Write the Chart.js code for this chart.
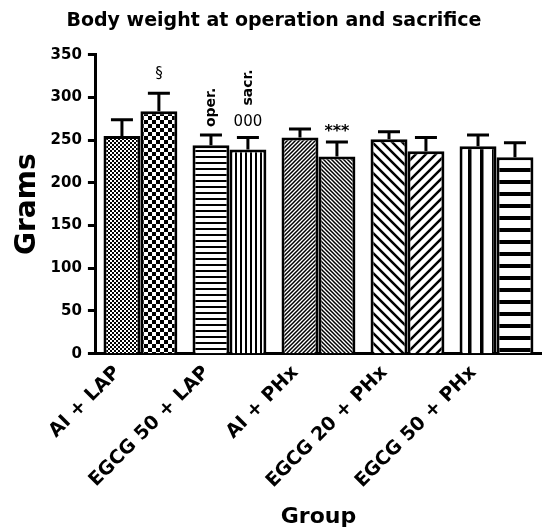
<!DOCTYPE html>
<html>
<head>
<meta charset="utf-8">
<script src="https://cdn.jsdelivr.net/npm/chart.js@4/dist/chart.umd.min.js"></script>
<style>
  body { margin: 0; background: #fff; }
  #wrap { width: 542px; height: 530px; }
</style>
</head>
<body>
<div id="wrap"><canvas id="bodyWeightChart" width="542" height="530"></canvas></div>
<script>
const groups = ['AI + LAP', 'EGCG 50 + LAP', 'AI + PHx', 'EGCG 20 + PHx', 'EGCG 50 + PHx'];
const operWeights = [255, 244, 253, 251, 243];
const operSd = [19, 12, 10, 9, 13];
const sacrWeights = [284, 239, 231, 237, 230];
const sacrSd = [21, 14, 17, 16, 17];
const sacrMarks = ['§', '000', '***', '', ''];
const seriesNames = ['oper.', 'sacr.'];

const FONT = "'DejaVu Sans', sans-serif";

function makePattern(size, draw) {
    const c = document.createElement('canvas');
    c.width = size;
    c.height = size;
    const g = c.getContext('2d');
    g.fillStyle = '#fff';
    g.fillRect(0, 0, size, size);
    g.fillStyle = '#000';
    g.strokeStyle = '#000';
    draw(g, size);
    return g.createPattern(c, 'repeat');
}

function checker(cell) {
    return makePattern(cell * 2, (g) => {
        g.fillRect(0, 0, cell, cell);
        g.fillRect(cell, cell, cell, cell);
    });
}

function hLines(size, w) {
    return makePattern(size, (g, s) => g.fillRect(0, 0, s, w));
}

function vLines(size, w) {
    return makePattern(size, (g, s) => g.fillRect(0, 0, w, s));
}

function diag(size, w, up) {
    return makePattern(size, (g, s) => {
        g.lineWidth = w;
        g.beginPath();
        if (up) {
            g.moveTo(-s, s); g.lineTo(s, -s);
            g.moveTo(0, s); g.lineTo(s, 0);
            g.moveTo(0, 2 * s); g.lineTo(2 * s, 0);
        } else {
            g.moveTo(0, 0); g.lineTo(s, s);
            g.moveTo(-s, 0); g.lineTo(s, 2 * s);
            g.moveTo(0, -s); g.lineTo(2 * s, s);
        }
        g.stroke();
    });
}

const operFills = [checker(2), hLines(6, 2), diag(4, 1.5, true), diag(10, 2.5, false), vLines(12, 3.5)];
const sacrFills = [checker(4), vLines(5, 2), diag(4, 1.5, false), diag(10, 2.5, true), hLines(12, 4)];

// error bars (upper only) and the marks written above them
const errorBars = {
    id: 'errorBars',
    afterDatasetsDraw(chart) {
        const ctx = chart.ctx;
        const yScale = chart.scales.y;
        ctx.save();
        ctx.strokeStyle = '#000';
        ctx.fillStyle = '#000';
        ctx.lineWidth = 3;
        chart.data.datasets.forEach((ds, di) => {
            const meta = chart.getDatasetMeta(di);
            meta.data.forEach((bar, i) => {
                const top = yScale.getPixelForValue(ds.data[i] + ds.sd[i]);
                ctx.beginPath();
                ctx.moveTo(bar.x, bar.y);
                ctx.lineTo(bar.x, top);
                ctx.moveTo(bar.x - 11, top);
                ctx.lineTo(bar.x + 11, top);
                ctx.stroke();

                let labelStart = top - 8;
                const mark = ds.marks ? ds.marks[i] : '';
                if (mark) {
                    const stars = mark.includes('*');
                    ctx.font = (stars ? 'bold 16px ' : '15px ') + FONT;
                    ctx.textAlign = 'center';
                    ctx.textBaseline = 'bottom';
                    let gap = 8;
                    if (stars) gap = 2;
                    if (mark === '§') gap = 12;
                    ctx.fillText(mark, bar.x, top - gap);
                    labelStart = top - 32;
                }
                // series names written once, above the second group
                if (i === 1) {
                    ctx.save();
                    ctx.font = 'bold 14px ' + FONT;
                    ctx.translate(bar.x, labelStart);
                    ctx.rotate(-Math.PI / 2);
                    ctx.textAlign = 'left';
                    ctx.textBaseline = 'middle';
                    ctx.fillText(ds.label, 0, 0);
                    ctx.restore();
                }
            });
        });
        ctx.restore();
    }
};

const ctx = document.getElementById('bodyWeightChart').getContext('2d');
new Chart(ctx, {
    type: 'bar',
    data: {
        labels: groups,
        datasets: [
            {
                label: seriesNames[0],
                data: operWeights,
                sd: operSd,
                backgroundColor: operFills,
                borderColor: '#000',
                borderWidth: 3
            },
            {
                label: seriesNames[1],
                data: sacrWeights,
                sd: sacrSd,
                marks: sacrMarks,
                backgroundColor: sacrFills,
                borderColor: '#000',
                borderWidth: 3
            }
        ]
    },
    options: {
        responsive: false,
        animation: false,
        devicePixelRatio: 1,
        categoryPercentage: 0.83,
        barPercentage: 1.0,
        layout: { padding: { left: 7, right: 1, top: 0, bottom: 0 } },
        plugins: {
            legend: { display: false },
            tooltip: { enabled: false },
            title: {
                display: true,
                text: 'Body weight at operation and sacrifice',
                color: '#000',
                font: { family: FONT, size: 19, weight: 'bold' },
                padding: { top: 10, bottom: 22 }
            }
        },
        scales: {
            x: {
                grid: { display: false },
                border: { display: true, color: '#000', width: 3 },
                ticks: {
                    color: '#000',
                    font: { family: FONT, size: 19, weight: 'bold' },
                    minRotation: 45,
                    maxRotation: 45,
                    labelOffset: -23,
                    padding: 0
                },
                title: {
                    display: true,
                    text: 'Group',
                    color: '#000',
                    font: { family: FONT, size: 22, weight: 'bold' },
                    padding: { top: 11, bottom: 0 }
                }
            },
            y: {
                min: 0,
                max: 350,
                grid: {
                    drawOnChartArea: false,
                    drawTicks: true,
                    tickLength: 8,
                    tickWidth: 3,
                    color: '#000'
                },
                border: { display: true, color: '#000', width: 3 },
                ticks: {
                    stepSize: 50,
                    color: '#000',
                    padding: 6,
                    font: { family: FONT, size: 15, weight: 'bold' }
                },
                title: {
                    display: true,
                    text: 'Grams',
                    color: '#000',
                    font: { family: FONT, size: 28, weight: 'bold' },
                    padding: { top: 4, bottom: 0 }
                }
            }
        }
    },
    plugins: [errorBars]
});
</script>
</body>
</html>
